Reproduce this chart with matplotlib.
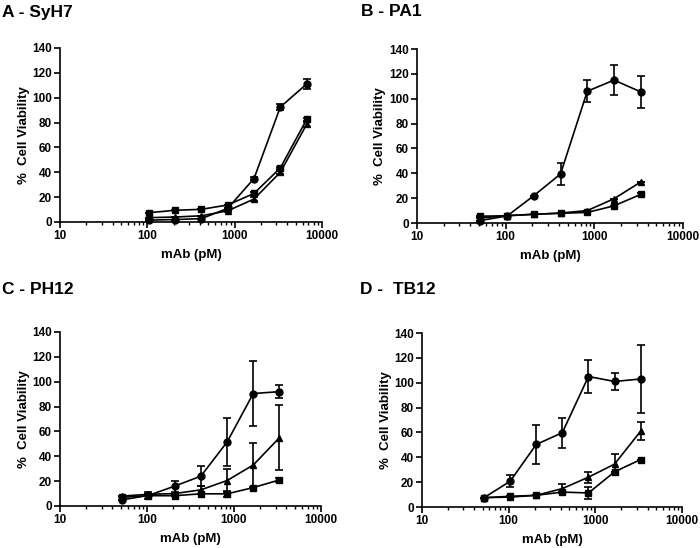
import numpy as np
import matplotlib
matplotlib.use('Agg')
import matplotlib.pyplot as plt

plt.rcParams['font.family'] = ['Liberation Sans', 'DejaVu Sans']
plt.rcParams['font.weight'] = 'bold'

# concentrations (pM)
conc_a = [104, 208, 416, 833, 1666, 3333, 6666]
conc = [52, 104, 208, 416, 833, 1666, 3333]

# A - SyH7
a_circ = [1.5, 2, 2.7, 11, 35, 92.5, 111]
a_circ_err = [0, 0, 0, 0, 1.5, 2.5, 4]
a_tri = [3.5, 4, 5, 9, 18.5, 40, 78.5]
a_tri_err = [0, 0, 0, 1, 1.5, 1.5, 2]
a_sq = [7.5, 9.4, 10.2, 13.7, 23, 43.5, 82.5]
a_sq_err = [0, 0, 0, 0, 1, 1, 1.5]

# B - PA1
b_circ = [2, 5.7, 22, 39.5, 106, 115, 105.5]
b_circ_err = [0, 0, 0, 9, 9, 12, 13]
b_tri = [4, 6, 7, 8, 10, 19.5, 33]
b_tri_err = [0, 0, 0, 0, 0, 0, 0]
b_sq = [5.5, 5.8, 7, 7.8, 8.5, 13.8, 23]
b_sq_err = [0, 0, 0, 0, 0, 0, 1.5]

# C - PH12
c_circ = [5, 8.5, 16, 24, 51.5, 90.5, 92]
c_circ_err = [0, 3, 4.5, 8, 19, 26, 5.5]
c_tri = [8, 9.4, 10, 13, 20.5, 33, 55]
c_tri_err = [0, 0, 0, 3, 9, 18, 26]
c_sq = [7, 8.3, 8.3, 9.8, 9.8, 14.8, 21]
c_sq_err = [0, 0, 0, 0, 2.5, 0, 1.5]

# D - TB12
d_circ = [7.5, 20.7, 50.3, 59.8, 105, 101, 103]
d_circ_err = [0, 5, 15.5, 12, 13, 6.8, 27]
d_tri = [7.5, 8, 9.4, 14.8, 24, 34.5, 61]
d_tri_err = [0, 0, 0, 3.8, 4.5, 7.8, 7]
d_sq = [7.5, 8.6, 9.4, 12, 11.3, 28.3, 38.2]
d_sq_err = [0, 0, 0, 0, 4.7, 0, 0]

panels = [
    ('A - SyH7', conc_a, (a_circ, a_circ_err), (a_tri, a_tri_err), (a_sq, a_sq_err),
     [60/700, 1 - 222/548, 262/700, 174/548], (2/700, 1 - 12/548)),
    ('B - PA1', conc, (b_circ, b_circ_err), (b_tri, b_tri_err), (b_sq, b_sq_err),
     [417/700, 1 - 223/548, 266/700, 174/548], (361/700, 1 - 12/548)),
    ('C - PH12', conc, (c_circ, c_circ_err), (c_tri, c_tri_err), (c_sq, c_sq_err),
     [60/700, 1 - 506/548, 261/700, 174/548], (2/700, 1 - 290/548)),
    ('D -  TB12', conc, (d_circ, d_circ_err), (d_tri, d_tri_err), (d_sq, d_sq_err),
     [422/700, 1 - 507/548, 260/700, 174/548], (360/700, 1 - 290/548)),
]

fig = plt.figure(figsize=(7, 5.48), dpi=100)

for title, x, circ, tri, sq, rect, tpos in panels:
    ax = fig.add_axes(rect)
    for (y, e), m in [(circ, 'o'), (tri, '^'), (sq, 's')]:
        ax.errorbar(x, y, yerr=e, color='black', marker=m, markersize=5,
                    linewidth=1.2, elinewidth=1.2, capsize=3, capthick=1.2,
                    clip_on=False, zorder=3)
    ax.set_xscale('log')
    ax.set_xlim(10, 10000)
    ax.set_ylim(0, 140)
    ax.set_yticks(range(0, 141, 20))
    ax.set_xticks([10, 100, 1000, 10000])
    ax.set_xticklabels(['10', '100', '1000', '10000'])
    ax.spines['top'].set_visible(False)
    ax.spines['right'].set_visible(False)
    ax.spines['left'].set_linewidth(1.2)
    ax.spines['bottom'].set_linewidth(1.2)
    ax.tick_params(which='major', direction='out', length=4, width=1.2, labelsize=8.5, pad=2)
    ax.tick_params(which='minor', direction='out', length=2.5, width=1)
    ax.tick_params(axis='y', which='minor', left=False)
    ax.set_xlabel('mAb (pM)', fontsize=9.5, fontweight='bold')
    ax.set_ylabel('%  Cell Viability', fontsize=9.5, fontweight='bold')
    ax.xaxis.set_label_coords(0.5, -0.155)
    ax.yaxis.set_label_coords(-0.115, 0.5)
    fig.text(tpos[0], tpos[1], title, fontsize=12.5, fontweight='bold',
             ha='left', va='center')

fig.savefig('out.png', dpi=100)
